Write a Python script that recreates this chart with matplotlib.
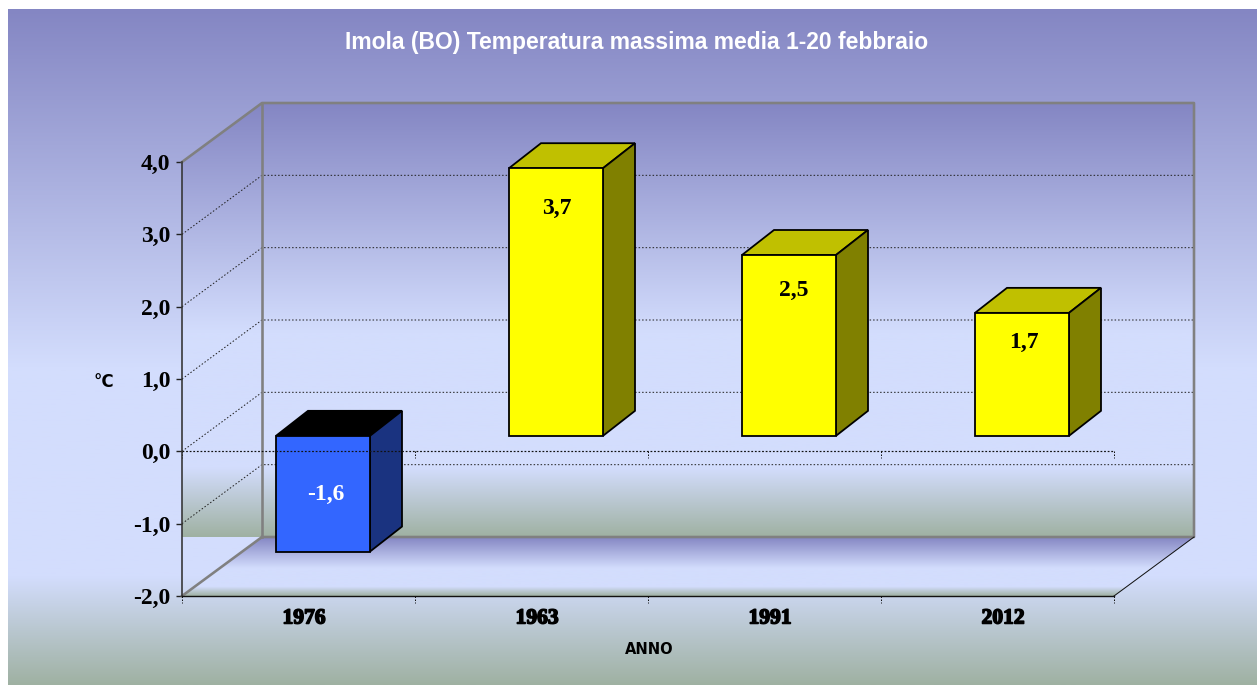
import numpy as np
import matplotlib
matplotlib.use("Agg")
import matplotlib.pyplot as plt
from matplotlib.colors import LinearSegmentedColormap
from matplotlib.patches import Polygon
import matplotlib.patheffects as pe

# ---- data ----
years = ["1976", "1963", "1991", "2012"]
temps = [-1.6, 3.7, 2.5, 1.7]
labels = ["-1,6", "3,7", "2,5", "1,7"]
y_ticks = [-2, -1, 0, 1, 2, 3, 4]
title = "Imola (BO) Temperatura massima media 1-20 febbraio"
y_title = "°C"
x_title = "ANNO"

# ---- layout (pixels) ----
W, H = 1257, 685
PX = 0.72  # points per pixel at dpi 100
L, R, T, B = 182, 1114, 162, 596
fig = plt.figure(figsize=(W / 100, H / 100), dpi=100, facecolor="white")

stops = [(0, "#8486c3"), (0.53, "#d3ddfd"), (0.84, "#d3ddfd"), (1, "#9fb1a2")]
cmap = LinearSegmentedColormap.from_list("bg", stops, N=512)
grad = np.linspace(0, 1, 512).reshape(-1, 1)

bg = fig.add_axes([8 / W, 0, (W - 8) / W, (H - 9) / H], zorder=0)
bg.imshow(grad, cmap=cmap, aspect="auto", vmin=0, vmax=1)
bg.axis("off")

ax = fig.add_axes([L / W, 1 - B / H, (R - L) / W, (B - T) / H], zorder=1)
ax.patch.set_visible(False)
n = len(years)
ax_xlim, ax_ylim = (0, n), (min(y_ticks), max(y_ticks))
xs = (R - L) / n          # px per category
ys = (B - T) / (ax_ylim[1] - ax_ylim[0])  # px per unit
DX, DY = 80 / xs, 59 / ys  # depth of the chart box


def poly(pts, **kw):
    p = Polygon(pts, closed=True, clip_on=False, **kw)
    ax.add_patch(p)
    return p


# walls and floor gradients
ymin, ymax = ax_ylim
im = ax.imshow(grad, cmap=cmap, aspect="auto", vmin=0, vmax=1, zorder=1,
               extent=(0, n + DX, ymin + DY, ymax + DY))
wall = Polygon([(0, ymin + DY), (0, ymax), (DX, ymax + DY), (n + DX, ymax + DY),
                (n + DX, ymin + DY)], closed=True, transform=ax.transData)
im.set_clip_box(fig.bbox)
im.set_clip_path(wall)
fl = ax.imshow(grad, cmap=cmap, aspect="auto", vmin=0, vmax=1, zorder=1,
               extent=(0, n + DX, ymin, ymin + DY))
floor = Polygon([(0, ymin), (DX, ymin + DY), (n + DX, ymin + DY), (n, ymin)],
                closed=True, transform=ax.transData)
fl.set_clip_box(fig.bbox)
fl.set_clip_path(floor)
ax.set_xlim(*ax_xlim)
ax.set_ylim(*ax_ylim)

# grid: left wall + back wall
for v in y_ticks[1:-1]:
    ax.plot([0, DX, n + DX], [v, v + DY, v + DY], color="#222222", lw=1 * PX,
            ls=(0, (1.5, 2)), zorder=2, clip_on=False)

# box edges
gray = dict(color="#808080", lw=2.6 * PX, zorder=2.5, clip_on=False,
            solid_capstyle="projecting")
ax.plot([DX, DX], [ymin + DY, ymax + DY], **gray)
ax.plot([0, DX, n + DX, n + DX, DX], [ymax, ymax + DY, ymax + DY, ymin + DY, ymin + DY], **gray)
ax.plot([0, DX], [ymin, ymin + DY], **gray)
ax.plot([n, n + DX], [ymin, ymin + DY], color="#111111", lw=1 * PX, zorder=2.5, clip_on=False)

# bars
off_x, off_y = 24.5 / xs, 15.5 / ys
bx, by = 32 / xs, 25 / ys
width = 94 / xs
centers = np.arange(n) + 0.5 + off_x
edge = dict(edgecolor="black", linewidth=1.8 * PX, joinstyle="miter", zorder=3)
for c, v in zip(centers, temps):
    front, top, side = (("#ffff00", "#c0c000", "#808000") if v >= 0
                        else ("#3366ff", "#000000", "#1a3380"))
    lo, hi = min(0, v) + off_y, max(0, v) + off_y
    x0, x1 = c - width / 2, c + width / 2
    poly([(x0, hi), (x0 + bx, hi + by), (x1 + bx, hi + by), (x1, hi)], facecolor=top, **edge)
    poly([(x1, lo), (x1 + bx, lo + by), (x1 + bx, hi + by), (x1, hi)], facecolor=side, **edge)
    ax.bar(c, hi - lo, width, bottom=lo, color=front, clip_on=False, **edge)

# value labels
serif = "Liberation Serif"
drop_px = [59, 40.5, 35.5, 30]
shift_px = [3, 1, 5, 2]
for c, v, t, d, s in zip(centers, temps, labels, drop_px, shift_px):
    ax.text(c + s / xs, max(0, v) + off_y - d / ys, t, ha="center", va="center",
            family=serif, weight="bold", fontsize=17, zorder=5,
            color="white" if v < 0 else "black")

# zero axis over the bars, with its dotted ticks
ax.plot([0, n], [0, 0], color="#111111", lw=1.2 * PX, ls=(0, (1.5, 1.5)), zorder=4, clip_on=False)
tick = 7 / ys
for i in range(n + 1):
    ax.plot([i, i], [0, -tick], color="#111111", lw=1 * PX, ls=(0, (1.5, 1.5)), zorder=4, clip_on=False)
    ax.plot([i, i], [ymin, ymin - tick], color="#111111", lw=1 * PX, ls=(0, (1.5, 1.5)), zorder=4, clip_on=False)

# axes
for s in ("top", "right"):
    ax.spines[s].set_visible(False)
ax.spines["left"].set(color="#333333", linewidth=1.6 * PX, zorder=4)
ax.spines["bottom"].set(color="#111111", linewidth=1.4 * PX, zorder=4)
ax.set_yticks(y_ticks)
ax.set_yticklabels([f"{v:.1f}".replace(".", ",") for v in y_ticks],
                   family=serif, weight="bold", fontsize=17)
ax.tick_params(axis="y", length=6 * PX, width=1.4 * PX, color="#222222", pad=4)
ax.set_xticks(np.arange(n) + 0.5 + 5.5 / xs)
ax.set_xticklabels(years, family=serif, weight="bold", fontsize=15.5,
                   path_effects=[pe.withStroke(linewidth=1.1, foreground="black")])
ax.tick_params(axis="x", length=0, pad=9)

fig.text(637 / W, 1 - 43 / H, title, ha="center", va="center", color="white",
         family="Liberation Sans", weight="bold", fontsize=16.5, zorder=5)
fig.text(104 / W, 1 - 382 / H, y_title, ha="center", va="center", color="black",
         family="DejaVu Sans", weight="bold", fontsize=12, zorder=5)
fig.text(649 / W, 1 - 650 / H, x_title, ha="center", va="center", color="black",
         family="DejaVu Sans", weight="bold", fontsize=10.5, zorder=5)

fig.savefig("out.png", dpi=100)
